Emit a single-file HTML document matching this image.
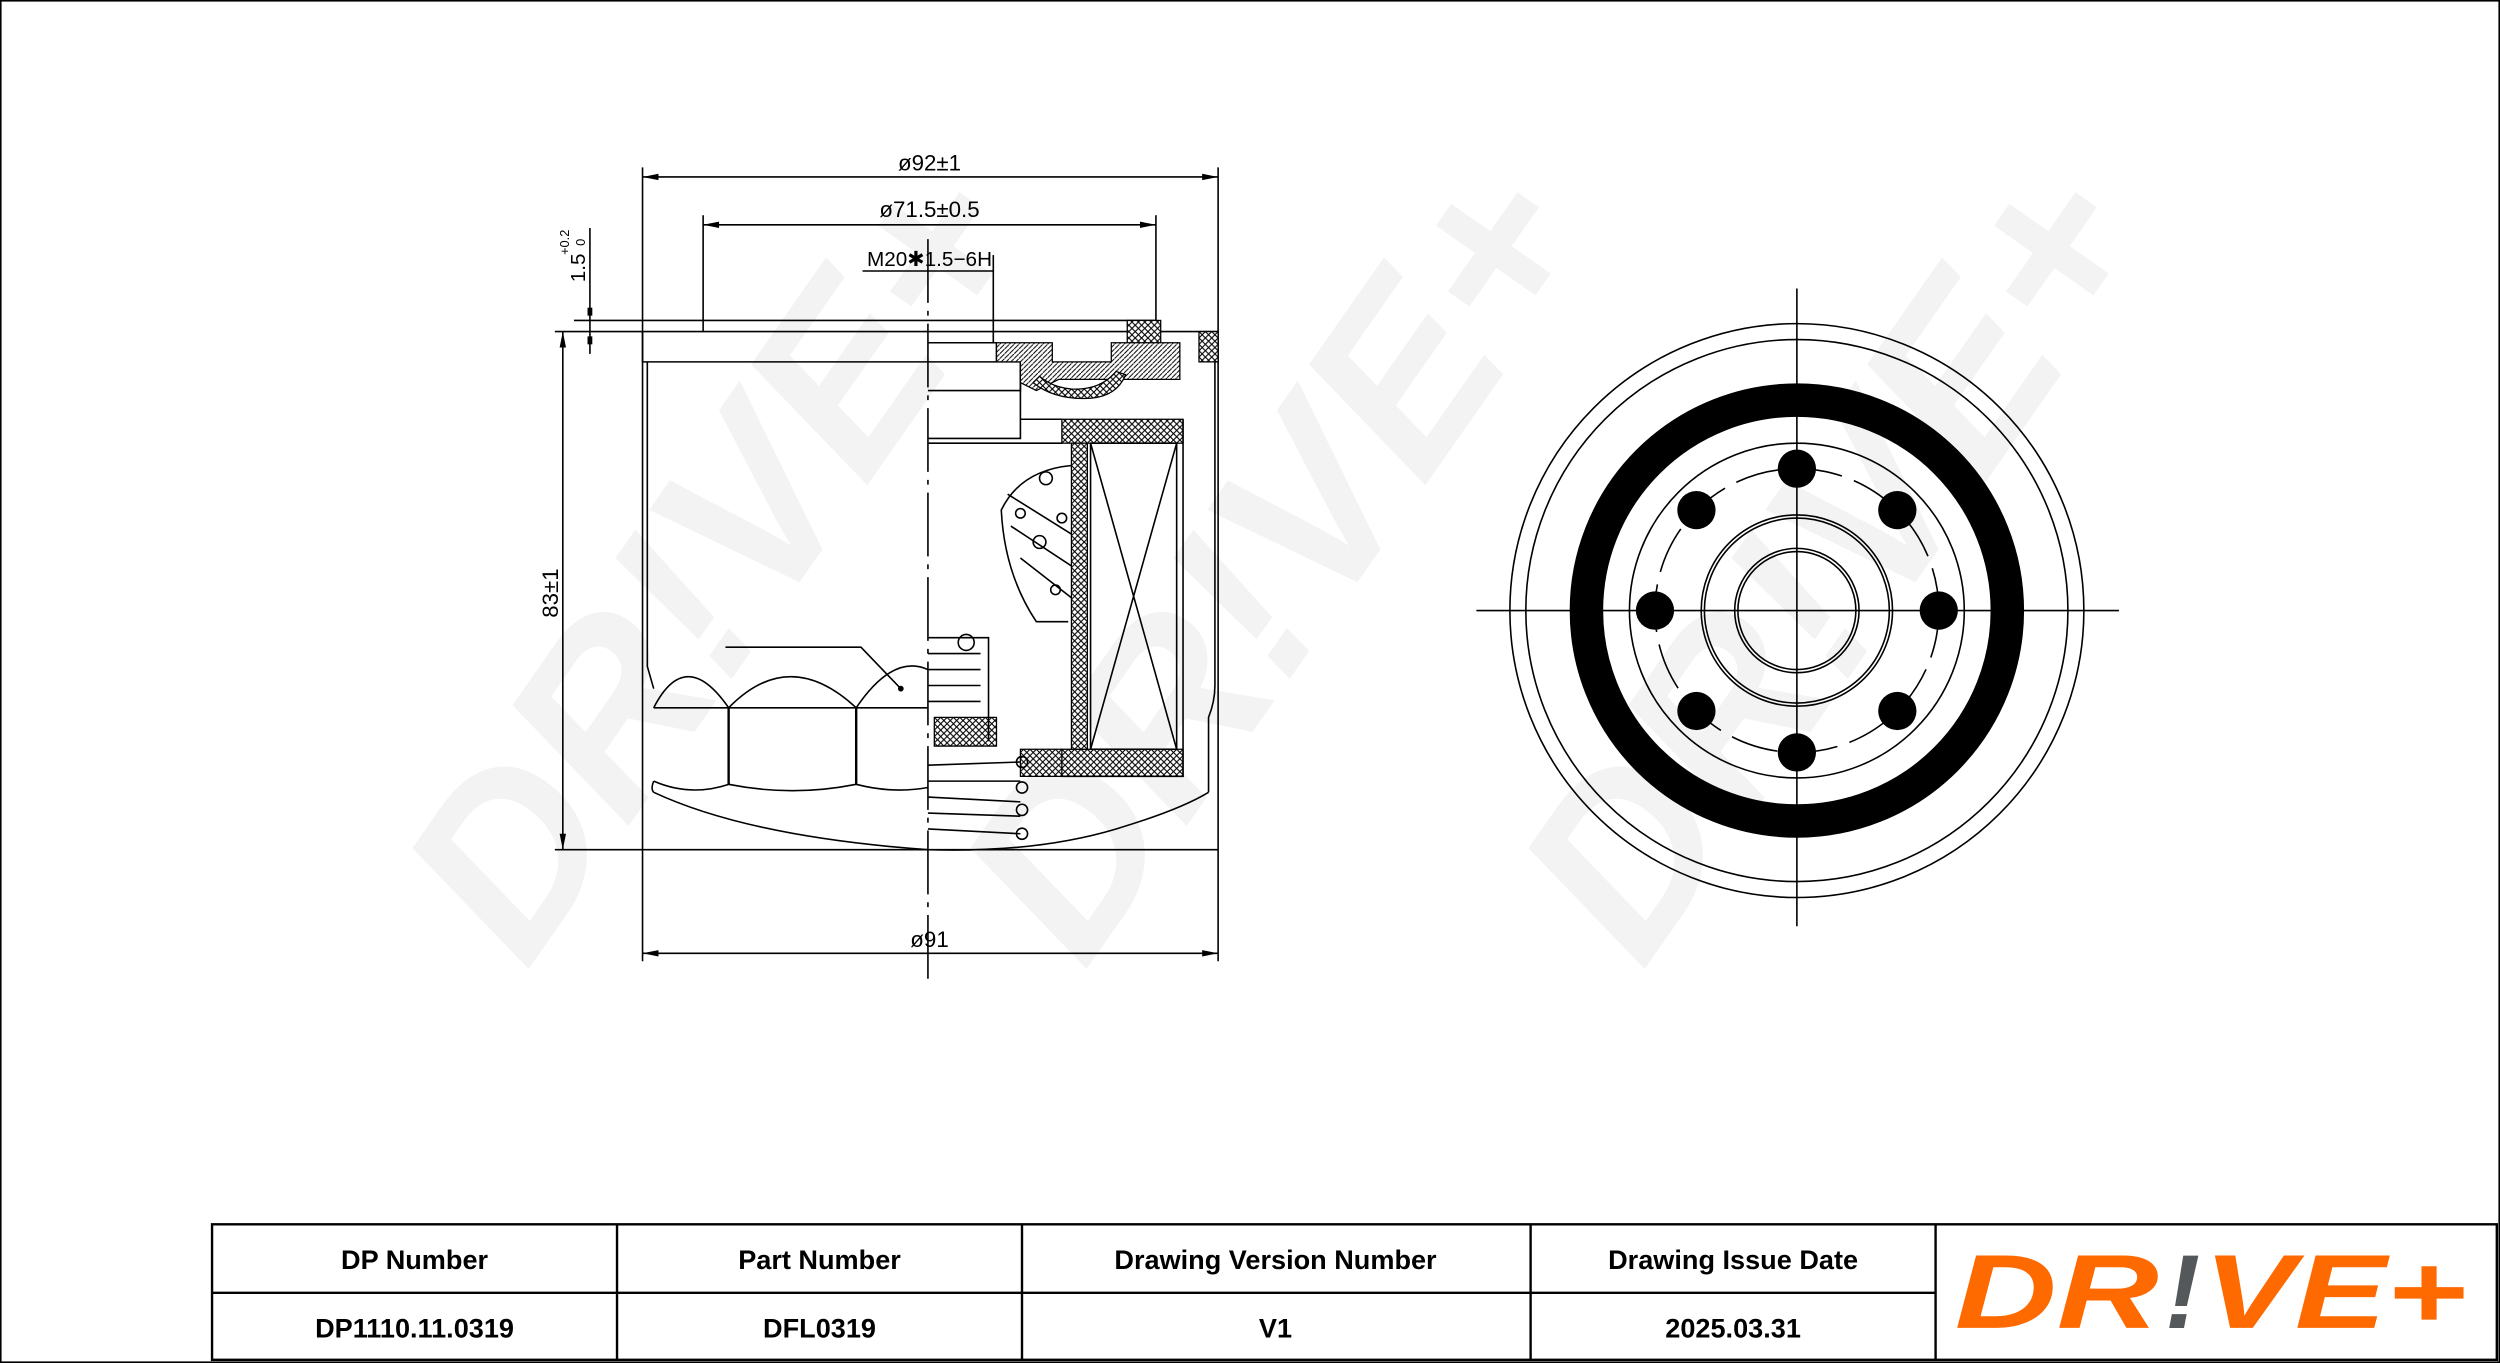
<!DOCTYPE html>
<html><head><meta charset="utf-8"><style>
html,body{margin:0;padding:0;background:#fff}
svg{display:block}
</style></head><body>
<svg width="2500" height="1363" viewBox="0 0 1568 855" preserveAspectRatio="none" xmlns="http://www.w3.org/2000/svg">
<defs>
<pattern id="xh" width="4" height="4" patternUnits="userSpaceOnUse"><rect width="4" height="4" fill="#fff"/><path d="M0 0L4 4M4 0L0 4" stroke="#000" stroke-width="0.7"/></pattern>
<pattern id="hh" width="3" height="3" patternUnits="userSpaceOnUse"><rect width="3" height="3" fill="#fff"/><path d="M0 3L3 0" stroke="#000" stroke-width="0.6"/></pattern>
</defs>
<rect x="0.5" y="0.5" width="1567" height="854" fill="#fff" stroke="#000" stroke-width="1"/>
<!-- watermarks -->
<g fill="#f3f3f3" font-family="Liberation Sans, sans-serif" font-weight="bold" font-style="italic" font-size="150">
<text transform="translate(330,610) rotate(-55)" textLength="560" lengthAdjust="spacingAndGlyphs">DR!VE+</text>
<text transform="translate(680,610) rotate(-55)" textLength="560" lengthAdjust="spacingAndGlyphs">DR!VE+</text>
<text transform="translate(1030,610) rotate(-55)" textLength="560" lengthAdjust="spacingAndGlyphs">DR!VE+</text>
</g>
<g stroke="#000" stroke-width="1" fill="none">
<line x1="403" y1="105" x2="403" y2="603"/><line x1="764" y1="105" x2="764" y2="603"/>
<line x1="403" y1="111" x2="764" y2="111"/>
<line x1="441" y1="135" x2="441" y2="208"/><line x1="725" y1="135" x2="725" y2="201"/>
<line x1="441" y1="141" x2="725" y2="141"/>
<line x1="541" y1="170" x2="623" y2="170"/><line x1="623" y1="160" x2="623" y2="215"/>
<line x1="370" y1="143" x2="370" y2="222"/>
<line x1="360" y1="201" x2="725" y2="201"/>
<line x1="348" y1="208" x2="764" y2="208"/>
<line x1="353" y1="208" x2="353" y2="533"/>
<line x1="348" y1="533" x2="764" y2="533"/>
<line x1="403" y1="598" x2="764" y2="598"/>
<line x1="582" y1="150" x2="582" y2="618" stroke-dasharray="40,5,3,5"/>
<path d="M403 208V227H582"/>
<path d="M406 227V418Q408 425 410 432M410 490Q408 495 410 497"/>
<path d="M410 444Q430 405 457 444Q495 405 537 444Q560 410 582 420"/>
<line x1="410" y1="444" x2="582" y2="444"/>
<line x1="457" y1="444" x2="457" y2="492" stroke-width="1.5"/>
<line x1="537" y1="444" x2="537" y2="492" stroke-width="1.5"/>
<path d="M410 490Q433 500 457 492Q497 500 537 492Q560 498 582 494"/>
<path d="M410 497Q470 525 582 533Q650 535 700 520Q740 508 758 497"/>
<path d="M455 406H540L565 432"/><circle cx="565" cy="432" r="1.3" fill="#000"/>
<path d="M762 227V430Q762 440 758 450V497"/>
<path d="M582 215H625V227H582M582 227H640V245H582"/>
<path d="M640 227V275H582M640 245V275"/>
<line x1="582" y1="278" x2="666" y2="278"/>
<line x1="640" y1="263" x2="666" y2="263"/>
</g>
<g stroke="#000" stroke-width="0.8">
<rect x="707" y="201" width="21" height="26" fill="url(#xh)"/>
<rect x="752" y="208" width="12" height="19" fill="url(#xh)"/>
<path d="M625 215H660V227H697V215H740V238H664L650 245L640 240V227H625Z" fill="url(#hh)"/>
<path d="M648 240Q660 250 680 250Q700 250 706 235L700 233Q690 245 672 244Q660 243 652 236Z" fill="url(#xh)"/>
<rect x="666" y="263" width="76" height="15" fill="url(#xh)"/>
<rect x="666" y="470" width="76" height="17" fill="url(#xh)"/>
<rect x="672" y="278" width="10" height="192" fill="url(#xh)"/>
<path d="M640 470H666V487H640Z" fill="url(#xh)"/>
<path d="M586 450H625V468H586Z" fill="url(#xh)"/>
</g>
<g stroke="#000" stroke-width="1" fill="none">
<rect x="684" y="278" width="54" height="192"/>
<path d="M684 278L738 470M738 278L684 470"/>
<path d="M742 263V487H666"/>
<path d="M672 292Q640 295 628 320Q630 360 650 390H670" />
<circle cx="656" cy="300" r="4"/><circle cx="652" cy="340" r="4"/><circle cx="640" cy="322" r="3"/><circle cx="662" cy="370" r="3"/><circle cx="666" cy="325" r="3"/>
<path d="M632 310L672 335M634 330L672 355M640 350L672 375"/>
<path d="M582 400H620V465M582 410H615M582 420H615M582 430H615M582 440H615"/>
<circle cx="606" cy="403" r="5"/>
<path d="M582 480L640 478M582 490L640 490M582 500L640 503M582 510L640 512M582 520L640 523"/>
<circle cx="641" cy="478" r="3.5"/><circle cx="641" cy="494" r="3.5"/><circle cx="641" cy="508" r="3.5"/><circle cx="641" cy="523" r="3.5"/>
</g>
<g fill="#000">
<path d="M403 111l10 -2v4z"/><path d="M764 111l-10 -2v4z"/>
<path d="M441 141l10 -2v4z"/><path d="M725 141l-10 -2v4z"/>
<path d="M403 598l10 -2v4z"/><path d="M764 598l-10 -2v4z"/>
<path d="M353 208l-2 10h4z"/><path d="M353 533l-2 -10h4z"/>
<rect x="368.5" y="193" width="3" height="5"/><rect x="368.5" y="211" width="3" height="5"/>
</g>
<g font-family="Liberation Sans, DejaVu Sans, sans-serif" font-size="14" fill="#000" text-anchor="middle">
<text x="583" y="107">ø92±1</text>
<text x="583" y="136">ø71.5±0.5</text>
<text x="583" y="167" font-size="13">M20✱1.5−6H</text>
<text x="583" y="594">ø91</text>
<text transform="translate(350,372) rotate(-90)">83±1</text>
<text transform="translate(367,168) rotate(-90)" font-size="13">1.5</text>
<text transform="translate(357,152) rotate(-90)" font-size="8">+0.2</text>
<text transform="translate(367,152) rotate(-90)" font-size="8">0</text>
</g>
<g stroke="#000" fill="none" stroke-width="1">
<line x1="926" y1="383" x2="1329" y2="383"/>
<line x1="1127" y1="181" x2="1127" y2="581"/>
<circle cx="1127" cy="383" r="180"/>
<circle cx="1127" cy="383" r="170"/>
<circle cx="1127" cy="383" r="132" stroke-width="21"/>
<circle cx="1127" cy="383" r="105"/>
<circle cx="1127" cy="383" r="89" stroke-dasharray="30,8"/>
<circle cx="1127" cy="383" r="60"/><circle cx="1127" cy="383" r="58"/>
<circle cx="1127" cy="383" r="39"/><circle cx="1127" cy="383" r="37"/>
</g>
<g fill="#000">
<circle cx="1127" cy="294" r="12"/><circle cx="1127" cy="472" r="12"/>
<circle cx="1038" cy="383" r="12"/><circle cx="1216" cy="383" r="12"/>
<circle cx="1064" cy="320" r="12"/><circle cx="1190" cy="320" r="12"/>
<circle cx="1064" cy="446" r="12"/><circle cx="1190" cy="446" r="12"/>
</g>
<g stroke="#000" stroke-width="1.5" fill="none">
<rect x="133" y="768" width="1433" height="85"/>
<line x1="133" y1="811" x2="1214" y2="811"/>
<line x1="387" y1="768" x2="387" y2="853"/>
<line x1="641" y1="768" x2="641" y2="853"/>
<line x1="960" y1="768" x2="960" y2="853"/>
<line x1="1214" y1="768" x2="1214" y2="853"/>
</g>
<g font-family="Liberation Sans, sans-serif" font-weight="bold" font-size="17" fill="#000" text-anchor="middle">
<text x="260" y="796">DP Number</text>
<text x="514" y="796">Part Number</text>
<text x="800" y="796">Drawing Version Number</text>
<text x="1087" y="796">Drawing Issue Date</text>
<text x="260" y="839">DP1110.11.0319</text>
<text x="514" y="839">DFL0319</text>
<text x="800" y="839">V1</text>
<text x="1087" y="839">2025.03.31</text>
</g>
<g font-family="Liberation Sans, sans-serif" font-weight="bold" font-style="italic" font-size="66">
<text x="1226" y="833" fill="#ff6a00" textLength="128" lengthAdjust="spacingAndGlyphs">DR</text>
<text x="1358" y="833" fill="#55585a">!</text>
<text x="1382" y="833" fill="#ff6a00" textLength="165" lengthAdjust="spacingAndGlyphs">VE+</text>
</g>
</svg>
</body></html>
